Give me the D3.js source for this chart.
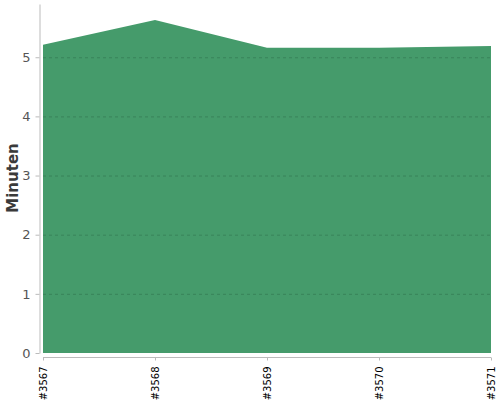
<!DOCTYPE html>
<html>
<head>
<meta charset="utf-8">
<script src="https://cdn.jsdelivr.net/npm/d3@7"></script>
<style>
  body { margin: 0; background: #fff; }
  svg { display: block; }
  .yAxis text { font-family: "DejaVu Sans", sans-serif; font-size: 13px; fill: #555; }
  .xAxis text { font-family: "DejaVu Sans", sans-serif; font-size: 10px; fill: #000; }
  .domain, .tick line { stroke: #bbb; }
</style>
</head>
<body>
<script>
var builds = ["#3567", "#3568", "#3569", "#3570", "#3571"];
var minutes = [5.21, 5.63, 5.16, 5.16, 5.19];
var yTicks = [0, 1, 2, 3, 4, 5];

var width = 500, height = 400;
var plotLeft = 43, plotRight = 491, plotTop = 4, plotBottom = 353;

var svg = d3.select("body").append("svg")
    .attr("width", width)
    .attr("height", height)

var x = d3.scalePoint()
    .domain(builds)
    .range([plotLeft, plotRight])

var y = d3.scaleLinear()
    .domain([0, 5.9])
    .range([plotBottom, plotTop])

var data = builds.map(function(b, i) { return {build: b, value: minutes[i]}; });

// area
var area = d3.area()
    .x(function(d) { return x(d.build); })
    .y0(y(0))
    .y1(function(d) { return y(d.value); })

svg.append("path")
    .datum(data)
    .attr("fill", "#459b6b")
    .attr("d", area)

// grid lines
svg.append("g")
    .selectAll("line")
    .data(yTicks.slice(1))
    .enter().append("line")
    .attr("x1", plotLeft)
    .attr("x2", plotRight)
    .attr("y1", function(d) { return y(d) + 0.5; })
    .attr("y2", function(d) { return y(d) + 0.5; })
    .attr("stroke", "#2d6e49")
    .attr("stroke-opacity", 0.5)
    .attr("stroke-dasharray", "3,3")

// y axis
var yAxis = svg.append("g")
    .attr("class", "yAxis")
    .attr("transform", "translate(39.5,0)")
    .call(d3.axisLeft(y).tickValues(yTicks).tickFormat(d3.format("d")).tickSize(4).tickSizeOuter(0).tickPadding(5))

// x axis
svg.append("g")
    .attr("class", "xAxis")
    .attr("transform", "translate(0,357.5)")
    .call(d3.axisBottom(x).tickSize(3).tickSizeOuter(0))
    .selectAll("text")
    .attr("transform", "rotate(-90)")
    .attr("text-anchor", "end")
    .attr("x", -9)
    .attr("y", 0)
    .attr("dy", "0.35em")

svg.select(".xAxis .domain").attr("d", "M" + plotLeft + ",0H" + plotRight)

// axis title
svg.append("text")
    .attr("transform", "translate(18,178) rotate(-90)")
    .attr("text-anchor", "middle")
    .style("font-family", "DejaVu Sans, sans-serif")
    .style("font-size", "15px")
    .style("font-weight", "bold")
    .style("fill", "#3a3a3a")
    .text("Minuten")
</script>
</body>
</html>
